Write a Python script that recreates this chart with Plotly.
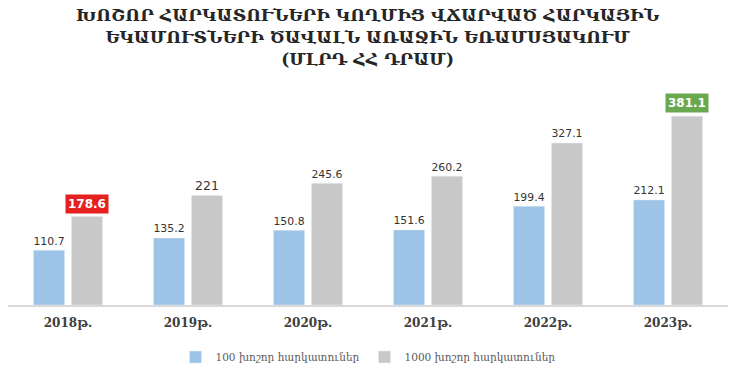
import plotly.graph_objects as go

years = ["2018թ.", "2019թ.", "2020թ.", "2021թ.", "2022թ.", "2023թ."]
top100 = [110.7, 135.2, 150.8, 151.6, 199.4, 212.1]
top1000 = [178.6, 221, 245.6, 260.2, 327.1, 381.1]
top1000_labels = ["178.6", "221", "245.6", "260.2", "327.1", "381.1"]
highlight = {0: "#e5201f", 5: "#6aa84f"}
series_names = ["100 խոշոր հարկատուներ", "1000 խոշոր հարկատուներ"]
title_lines = [
    "ԽՈՇՈՐ ՀԱՐԿԱՏՈՒՆԵՐԻ ԿՈՂՄԻՑ ՎՃԱՐՎԱԾ ՀԱՐԿԱՅԻՆ",
    "ԵԿԱՄՈՒՏՆԵՐԻ ԾԱՎԱԼՆ ԱՌԱՋԻՆ ԵՌԱՄՍՅԱԿՈՒՄ",
    "(ՄԼՐԴ ՀՀ ԴՐԱՄ)",
]

label_font = dict(family="DejaVu Sans", size=12.5, color="#333333")

fig = go.Figure()
fig.add_trace(go.Bar(
    x=years, y=top100, name=series_names[0],
    marker=dict(color="#9dc3e6"),
    text=[f"{v}" for v in top100], textposition="outside",
    textfont=label_font, cliponaxis=False,
))
fig.add_trace(go.Bar(
    x=years, y=top1000, name=series_names[1],
    marker=dict(color="#c8c8c8"),
    text=["" if i in highlight else top1000_labels[i] for i in range(len(years))],
    textposition="outside", textfont=label_font, cliponaxis=False,
))

for i, col in highlight.items():
    fig.add_annotation(
        x=years[i], y=top1000[i], xref="x", yref="y",
        text=f"<b>{top1000_labels[i]}</b>", showarrow=False,
        xshift=19, yshift=3, yanchor="bottom",
        bgcolor=col, font=dict(family="DejaVu Sans", size=12, color="white"),
        borderpad=2,
    )

fig.add_annotation(
    x=0.5, y=1, xref="paper", yref="paper", xanchor="center", yanchor="bottom",
    yshift=26, showarrow=False, align="center",
    text="<b>" + "<br>".join(title_lines) + "</b>",
    font=dict(family="DejaVu Serif", size=17, color="#262626"),
)

fig.update_layout(
    width=737, height=377,
    margin=dict(l=8, r=9, t=97, b=72, autoexpand=False),
    paper_bgcolor="white", plot_bgcolor="white",
    barmode="group", bargap=0.367, bargroupgap=0.18,
    showlegend=True,
    legend=dict(orientation="h", x=0.5, xanchor="center",
                y=0.053, yanchor="middle", yref="container",
                font=dict(family="DejaVu Serif", size=10.5, color="#595959"),
                itemwidth=30),
    xaxis=dict(showline=True, linecolor="#d9d9d9", linewidth=1.5, ticks="",
               tickfont=dict(family="DejaVu Serif", size=12, color="#404040",
                             weight="bold"),
               ticklabelstandoff=6,
               showgrid=False, range=[-0.5, 5.5], automargin=False),
    yaxis=dict(range=[0, 420], visible=False, showgrid=False),
)

fig.write_html("out.html", config={"displayModeBar": False},
               post_script="document.body.style.margin='0';")
